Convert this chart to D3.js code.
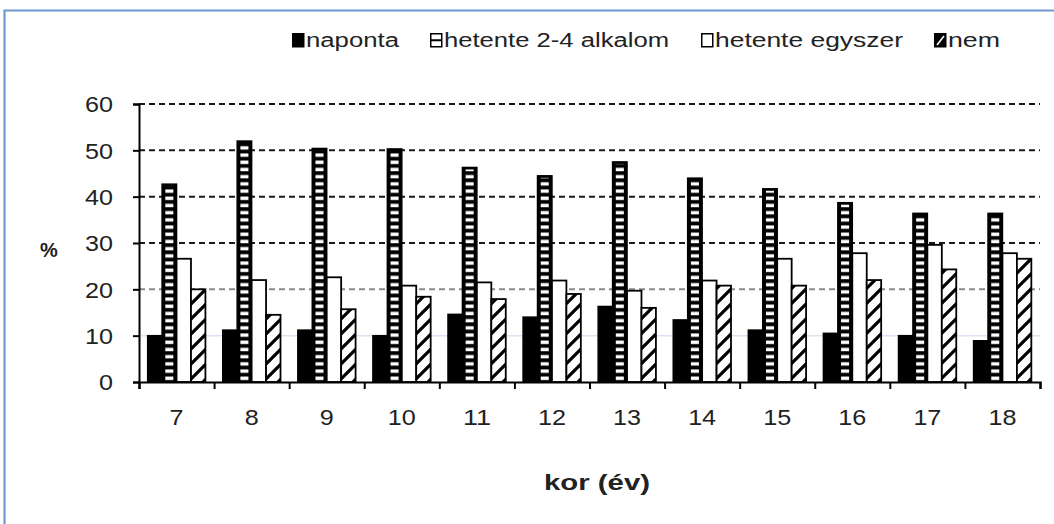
<!DOCTYPE html>
<html>
<head>
<meta charset="utf-8">
<script src="https://cdn.jsdelivr.net/npm/d3@7"></script>
<style>
  html, body { margin: 0; padding: 0; background: #fff; }
  svg { display: block; }
  text { font-family: "Liberation Sans", Arial, sans-serif; fill: #222; }
</style>
</head>
<body>
<svg id="chart" width="1054" height="524"></svg>
<script>
// ---- data ----
const categories = ["7","8","9","10","11","12","13","14","15","16","17","18"];
const seriesNames = ["naponta","hetente 2-4 alkalom","hetente egyszer","nem"];
const naponta        = [10.0, 11.2, 11.2, 10.0, 14.6, 14.0, 16.3, 13.4, 11.2, 10.5, 10.0, 8.9];
const hetente24      = [42.7, 52.0, 50.4, 50.3, 46.3, 44.5, 47.5, 44.0, 41.7, 38.7, 36.4, 36.4];
const hetenteEgyszer = [26.6, 22.0, 22.6, 20.8, 21.5, 21.9, 19.7, 21.9, 26.6, 27.8, 29.6, 27.8];
const nem            = [20.0, 14.5, 15.7, 18.4, 17.9, 19.0, 16.0, 20.8, 20.8, 22.0, 24.3, 26.6];
const yTicks = [0, 10, 20, 30, 40, 50, 60];
const xTitle = "kor (év)";
const yTitle = "%";

const seriesValues = [naponta, hetente24, hetenteEgyszer, nem];

// ---- layout ----
const svg = d3.select("#chart");
const pLeft = 139, pRight = 1040, pTop = 104, pBottom = 382;

const defs = svg.append("defs");
const ph = defs.append("pattern").attr("id", "hstripe")
  .attr("patternUnits", "userSpaceOnUse").attr("width", 40).attr("height", 7.2);
ph.append("rect").attr("width", 40).attr("height", 7.2).attr("fill", "#000");
ph.append("rect").attr("y", 2.2).attr("width", 40).attr("height", 3.4).attr("fill", "#fff");
const pd = defs.append("pattern").attr("id", "diag")
  .attr("patternUnits", "userSpaceOnUse").attr("width", 15).attr("height", 15);
pd.append("rect").attr("width", 15).attr("height", 15).attr("fill", "#fff");
pd.append("path").attr("d", "M-2,17 L17,-2 M-4,4 L4,-4 M11,19 L19,11")
  .attr("stroke", "#000").attr("stroke-width", 3.2);

// frame
svg.append("path").attr("d", "M4.5,524 L4.5,10.5 L1054,10.5")
  .attr("fill", "none").attr("stroke", "#6f97d2").attr("stroke-width", 2.2);

const x = d3.scaleBand().domain(categories).range([pLeft, pRight]).padding(0);
const xs = d3.scaleBand().domain(d3.range(4)).range([0, x.bandwidth()])
  .paddingInner(0).paddingOuter(0.6);
const y = d3.scaleLinear().domain([0, 60]).range([pBottom, pTop]);

// gridlines
const grid = svg.append("g");
yTicks.filter(t => t > 0).forEach(t => {
  const l = grid.append("line")
    .attr("x1", pLeft).attr("x2", pRight)
    .attr("y1", y(t)).attr("y2", y(t));
  if (t >= 30) l.attr("stroke", "#1a1a1a").attr("stroke-width", 2).attr("stroke-dasharray", "6,4");
  else if (t === 20) l.attr("stroke", "#8a8a8a").attr("stroke-width", 2).attr("stroke-dasharray", "6,4");
  else l.attr("stroke", "#dbe3f2").attr("stroke-width", 1.5);
});

// bars
const bars = svg.append("g");
categories.forEach((c, i) => {
  seriesValues.forEach((vals, s) => {
    const v = vals[i];
    const bx = x(c) + xs(s), bw = xs.bandwidth();
    const by = y(v), bh = y(0) - y(v);
    if (s === 0) {
      bars.append("rect").attr("x", bx).attr("y", by).attr("width", bw).attr("height", bh)
        .attr("fill", "#000").attr("stroke", "#000").attr("stroke-width", 1.5);
    } else if (s === 1) {
      bars.append("rect").attr("x", bx).attr("y", by).attr("width", bw).attr("height", bh)
        .attr("fill", "#000").attr("stroke", "#000").attr("stroke-width", 1.5);
      bars.append("rect").attr("x", bx + 3.2).attr("y", by + 2).attr("width", bw - 6.4).attr("height", Math.max(0, bh - 3))
        .attr("fill", "url(#hstripe)");
    } else if (s === 2) {
      bars.append("rect").attr("x", bx).attr("y", by).attr("width", bw).attr("height", bh)
        .attr("fill", "#fff").attr("stroke", "#000").attr("stroke-width", 1.8);
    } else {
      bars.append("rect").attr("x", bx).attr("y", by).attr("width", bw).attr("height", bh)
        .attr("fill", "url(#diag)").attr("stroke", "#000").attr("stroke-width", 1.8);
    }
  });
});

// y axis
const yAxis = svg.append("g").attr("transform", `translate(${pLeft},0)`)
  .call(d3.axisLeft(y).tickValues(yTicks).tickSize(6).tickPadding(20));
yAxis.select(".domain").attr("stroke", "#000").attr("stroke-width", 2);
yAxis.selectAll(".tick line").attr("stroke", "#000").attr("stroke-width", 2);
yAxis.selectAll(".tick text").attr("font-size", 22)
  .attr("font-family", "Liberation Sans, Arial, sans-serif").attr("fill", "#222")
  .attr("dy", "0.36em").attr("textLength", 28).attr("lengthAdjust", "spacingAndGlyphs");
yAxis.selectAll(".tick text").filter(d => d === 0).attr("textLength", 14);

// x axis: boundary ticks
const xi = d3.scaleLinear().domain([0, categories.length]).range([pLeft, pRight]);
const xAxisB = svg.append("g").attr("transform", `translate(0,${pBottom})`)
  .call(d3.axisBottom(xi).tickValues(d3.range(categories.length + 1)).tickSize(7).tickFormat(""));
xAxisB.select(".domain").attr("stroke", "#000").attr("stroke-width", 2.2);
xAxisB.selectAll(".tick line").attr("stroke", "#000").attr("stroke-width", 2);

const xAxisL = svg.append("g").attr("transform", `translate(0,${pBottom})`)
  .call(d3.axisBottom(x).tickSize(0).tickPadding(27));
xAxisL.select(".domain").remove();
xAxisL.selectAll(".tick text").attr("font-size", 22)
  .attr("font-family", "Liberation Sans, Arial, sans-serif").attr("fill", "#222")
  .attr("textLength", d => d.length * 14).attr("lengthAdjust", "spacingAndGlyphs");

// titles
svg.append("text").attr("x", 597).attr("y", 490).attr("text-anchor", "middle")
  .attr("font-size", 22).attr("font-weight", "bold")
  .attr("textLength", 106).attr("lengthAdjust", "spacingAndGlyphs").text(xTitle);
svg.append("text").attr("x", 49).attr("y", 257).attr("text-anchor", "middle")
  .attr("font-size", 20).attr("font-weight", "bold").text(yTitle);

// legend
const legendX = [292, 430, 701, 934];
const legendLen = [93, 225, 188, 52];
const leg = svg.append("g");
seriesNames.forEach((name, s) => {
  const g = leg.append("g").attr("transform", `translate(${legendX[s]},33)`);
  const sq = g.append("rect").attr("x", 0.75).attr("y", 0.75).attr("width", 11).attr("height", 13)
    .attr("stroke", "#000").attr("stroke-width", 1.5);
  if (s === 0) sq.attr("fill", "#000");
  else if (s === 1) {
    sq.attr("fill", "#fff");
    g.append("line").attr("x1", 1).attr("x2", 11.5).attr("y1", 7.25).attr("y2", 7.25)
      .attr("stroke", "#000").attr("stroke-width", 2);
  } else if (s === 2) sq.attr("fill", "#fff");
  else {
    sq.attr("fill", "#000");
    g.append("line").attr("x1", 3).attr("x2", 10).attr("y1", 12), g.select("line:last-child")
      .attr("y2", 3).attr("stroke", "#fff").attr("stroke-width", 1.6);
  }
  g.append("text").attr("x", 14).attr("y", 14).attr("font-size", 20)
    .attr("textLength", legendLen[s]).attr("lengthAdjust", "spacingAndGlyphs").text(name);
});
</script>
</body>
</html>
